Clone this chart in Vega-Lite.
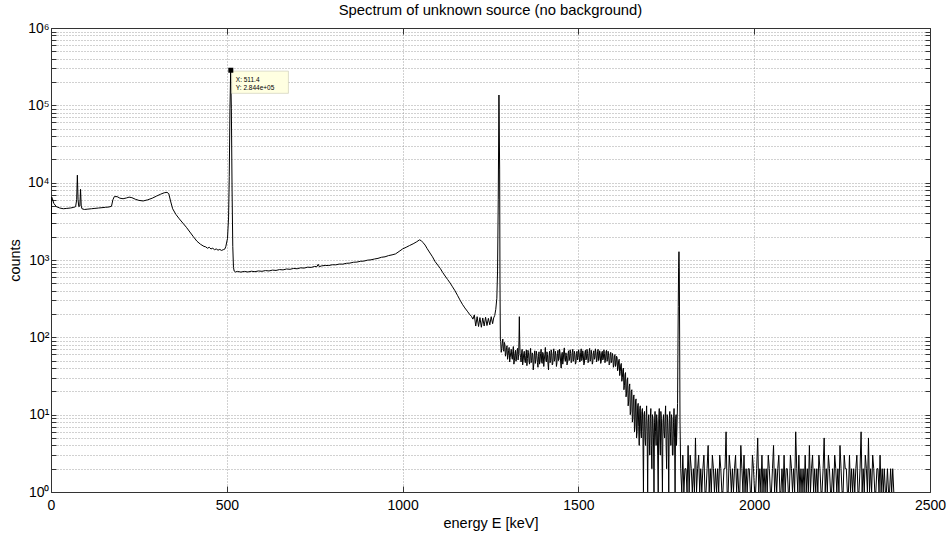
{
"$schema": "https://vega.github.io/schema/vega-lite/v6.json",
"width": 879, "height": 464,
"autosize": "none",
"padding": {"left": 51, "top": 28, "right": 19, "bottom": 44},
"background": "white",
"title": {"text": "Spectrum of unknown source (no background)", "fontSize": 14.8, "fontWeight": "normal", "font": "Liberation Sans", "offset": 3, "color": "black", "anchor": "middle"},
"config": {"view": {"stroke": null}, "font": "Liberation Sans"},
"datasets": {
"spec": [
{"E":0,"c":1800},{"E":2,"c":6500},{"E":4,"c":6200},{"E":8,"c":5400},{"E":15,"c":4900},{"E":25,"c":4700},{"E":35,"c":4600},{"E":45,"c":4650},{"E":55,"c":4700},{"E":65,"c":4800},{"E":70,"c":4900},{"E":73,"c":6000},{"E":75,"c":12500},{"E":77,"c":6000},{"E":79,"c":4900},{"E":82,"c":5000},{"E":84,"c":8200},{"E":86,"c":5000},{"E":88,"c":4600},{"E":95,"c":4500},{"E":105,"c":4550},{"E":115,"c":4600},{"E":125,"c":4650},{"E":135,"c":4700},{"E":145,"c":4750},{"E":155,"c":4800},{"E":165,"c":4850},{"E":172,"c":4950},{"E":176,"c":6000},{"E":180,"c":6600},{"E":188,"c":6600},{"E":196,"c":6300},{"E":205,"c":6200},{"E":215,"c":6350},{"E":222,"c":6500},{"E":230,"c":6400},{"E":240,"c":6100},{"E":250,"c":5900},{"E":262,"c":5800},{"E":275,"c":6000},{"E":288,"c":6300},{"E":300,"c":6700},{"E":312,"c":7100},{"E":322,"c":7400},{"E":330,"c":7500},{"E":335,"c":7200},{"E":340,"c":5800},{"E":346,"c":4600},{"E":355,"c":3900},{"E":365,"c":3400},{"E":375,"c":3000},{"E":385,"c":2650},{"E":395,"c":2300},{"E":405,"c":2000},{"E":415,"c":1750},{"E":425,"c":1600},{"E":435,"c":1500},{"E":440,"c":1480},{"E":445,"c":1420},{"E":450,"c":1460},{"E":455,"c":1390},{"E":460,"c":1420},{"E":465,"c":1360},{"E":470,"c":1390},{"E":475,"c":1340},{"E":480,"c":1370},{"E":485,"c":1330},{"E":490,"c":1360},{"E":494,"c":1380},{"E":497,"c":1480},{"E":502,"c":1900},{"E":505,"c":3500},{"E":507,"c":12000},{"E":509,"c":90000},{"E":511,"c":284400},{"E":513,"c":90000},{"E":515,"c":8000},{"E":517,"c":1500},{"E":519,"c":800},
{"E":521,"c":720},{"E":525,"c":700},{"E":530,"c":712},{"E":540,"c":698},{"E":550,"c":712},{"E":560,"c":700},{"E":570,"c":716},{"E":580,"c":706},{"E":590,"c":722},{"E":600,"c":714},{"E":610,"c":730},{"E":620,"c":722},{"E":630,"c":740},{"E":640,"c":733},{"E":650,"c":752},{"E":660,"c":745},{"E":670,"c":765},{"E":680,"c":758},{"E":690,"c":778},{"E":700,"c":770},{"E":710,"c":792},{"E":720,"c":786},{"E":730,"c":808},{"E":740,"c":802},{"E":750,"c":826},{"E":756,"c":818},{"E":760,"c":880},{"E":763,"c":820},{"E":770,"c":840},{"E":780,"c":850},{"E":790,"c":848},{"E":800,"c":868},{"E":810,"c":866},{"E":820,"c":886},{"E":830,"c":884},{"E":840,"c":906},{"E":850,"c":912},{"E":860,"c":935},{"E":870,"c":940},{"E":880,"c":962},{"E":890,"c":968},{"E":900,"c":995},{"E":910,"c":1005},{"E":920,"c":1030},{"E":930,"c":1050},{"E":940,"c":1085},{"E":950,"c":1100},{"E":960,"c":1140},{"E":970,"c":1165},{"E":980,"c":1200},{"E":990,"c":1290},{"E":1000,"c":1390},{"E":1010,"c":1460},{"E":1020,"c":1540},{"E":1030,"c":1620},{"E":1040,"c":1720},{"E":1048,"c":1820},{"E":1053,"c":1780},{"E":1058,"c":1680},{"E":1064,"c":1560},{"E":1070,"c":1400},{"E":1078,"c":1230},{"E":1085,"c":1100},{"E":1092,"c":960},{"E":1100,"c":860},{"E":1107,"c":780},{"E":1114,"c":690},{"E":1121,"c":620},{"E":1128,"c":560},{"E":1135,"c":505},{"E":1142,"c":450},{"E":1149,"c":400},{"E":1156,"c":350},{"E":1163,"c":305},{"E":1170,"c":268},{"E":1177,"c":240},{"E":1184,"c":218},{"E":1190,"c":200},{"E":1196,"c":186},{"E":1200,"c":172},{"E":1204,"c":195},{"E":1208,"c":140},{"E":1212,"c":185},{"E":1216,"c":138},{"E":1220,"c":180},{"E":1224,"c":135},{"E":1228,"c":178},{"E":1232,"c":140},{"E":1236,"c":182},{"E":1240,"c":142},{"E":1244,"c":176},{"E":1248,"c":145},{"E":1252,"c":185},{"E":1256,"c":150},{"E":1259,"c":178},{"E":1262,"c":192},{"E":1265,"c":230},{"E":1268,"c":320},{"E":1270,"c":700},{"E":1272,"c":6000},{"E":1274,"c":136000},{"E":1276,"c":15000},{"E":1277,"c":500},{"E":1278,"c":95},
{"E":1279,"c":88},{"E":1280.5,"c":64},{"E":1282,"c":72},{"E":1283.5,"c":84},{"E":1285,"c":95},{"E":1286.5,"c":70},{"E":1288,"c":66},{"E":1289.5,"c":86},{"E":1291,"c":80},{"E":1292.5,"c":57},{"E":1294,"c":61},{"E":1295.5,"c":74},{"E":1297,"c":78},{"E":1298.5,"c":52},{"E":1300,"c":58},{"E":1301.5,"c":67},{"E":1303,"c":74},{"E":1304.5,"c":48},{"E":1306,"c":55},{"E":1307.5,"c":63},{"E":1309,"c":70},{"E":1310.5,"c":56},{"E":1312,"c":52},{"E":1313.5,"c":65},{"E":1315,"c":76},{"E":1316.5,"c":45},{"E":1318,"c":50},{"E":1319.5,"c":62},{"E":1321,"c":68},{"E":1322.5,"c":49},{"E":1324,"c":54},{"E":1325.5,"c":66},{"E":1327,"c":72},{"E":1328.5,"c":51},{"E":1330,"c":60},{"E":1331,"c":90},{"E":1332,"c":185},{"E":1333,"c":95},{"E":1334,"c":62},{"E":1335.5,"c":55},{"E":1337,"c":48},{"E":1338.5,"c":63},{"E":1340,"c":70},{"E":1341.5,"c":44},{"E":1343,"c":51},{"E":1344.5,"c":61},{"E":1346,"c":66},{"E":1347.5,"c":50},{"E":1349,"c":47},{"E":1350.5,"c":58},{"E":1352,"c":69},{"E":1353.5,"c":43},{"E":1355,"c":53},{"E":1356.5,"c":68},{"E":1358,"c":64},{"E":1359.5,"c":49},{"E":1361,"c":45},{"E":1362.5,"c":60},{"E":1364,"c":72},{"E":1365.5,"c":47},{"E":1367,"c":50},{"E":1368.5,"c":63},{"E":1370,"c":61},{"E":1371.5,"c":38},{"E":1373,"c":44},{"E":1374.5,"c":59},{"E":1376,"c":67},{"E":1377.5,"c":46},{"E":1379,"c":52},{"E":1380.5,"c":66},{"E":1382,"c":58},{"E":1383.5,"c":47},{"E":1385,"c":41},{"E":1386.5,"c":57},{"E":1388,"c":65},{"E":1389.5,"c":45},{"E":1391,"c":49},{"E":1392.5,"c":62},{"E":1394,"c":70},{"E":1395.5,"c":48},{"E":1397,"c":46},{"E":1398.5,"c":64},{"E":1400,"c":62},{"E":1401.5,"c":42},{"E":1403,"c":51},{"E":1404.5,"c":60},{"E":1406,"c":74},{"E":1407.5,"c":50},{"E":1409,"c":48},{"E":1410.5,"c":65},{"E":1412,"c":60},{"E":1413.5,"c":45},{"E":1415,"c":38},{"E":1416.5,"c":58},{"E":1418,"c":66},{"E":1419.5,"c":47},{"E":1421,"c":50},{"E":1422.5,"c":69},{"E":1424,"c":63},{"E":1425.5,"c":44},{"E":1427,"c":45},{"E":1428.5,"c":61},{"E":1430,"c":71},{"E":1431.5,"c":49},{"E":1433,"c":52},{"E":1434.5,"c":66},{"E":1436,"c":59},{"E":1437.5,"c":42},{"E":1439,"c":47},{"E":1440.5,"c":62},{"E":1442,"c":68},{"E":1443.5,"c":50},{"E":1445,"c":53},{"E":1446.5,"c":70},{"E":1448,"c":61},{"E":1449.5,"c":48},{"E":1451,"c":40},{"E":1452.5,"c":59},{"E":1454,"c":64},{"E":1455.5,"c":45},{"E":1457,"c":51},{"E":1458.5,"c":67},{"E":1460,"c":73},{"E":1461.5,"c":52},{"E":1463,"c":49},{"E":1464.5,"c":63},{"E":1466,"c":58},{"E":1467.5,"c":44},{"E":1469,"c":46},{"E":1470.5,"c":61},{"E":1472,"c":67},{"E":1473.5,"c":50},{"E":1475,"c":54},{"E":1476.5,"c":69},{"E":1478,"c":62},{"E":1479.5,"c":47},{"E":1481,"c":48},{"E":1482.5,"c":64},{"E":1484,"c":70},{"E":1485.5,"c":49},{"E":1487,"c":52},{"E":1488.5,"c":66},{"E":1490,"c":60},{"E":1491.5,"c":45},{"E":1493,"c":47},{"E":1494.5,"c":62},{"E":1496,"c":66},{"E":1497.5,"c":51},{"E":1499,"c":55},{"E":1500.5,"c":69},{"E":1502,"c":63},{"E":1503.5,"c":48},{"E":1505,"c":49},{"E":1506.5,"c":64},{"E":1508,"c":71},{"E":1509.5,"c":50},{"E":1511,"c":53},{"E":1512.5,"c":67},{"E":1514,"c":59},{"E":1515.5,"c":44},{"E":1517,"c":46},{"E":1518.5,"c":63},{"E":1520,"c":68},{"E":1521.5,"c":51},{"E":1523,"c":54},{"E":1524.5,"c":70},{"E":1526,"c":62},{"E":1527.5,"c":47},{"E":1529,"c":50},{"E":1530.5,"c":65},{"E":1532,"c":72},{"E":1533.5,"c":49},{"E":1535,"c":52},{"E":1536.5,"c":68},{"E":1538,"c":60},{"E":1539.5,"c":45},{"E":1541,"c":48},{"E":1542.5,"c":63},{"E":1544,"c":67},{"E":1545.5,"c":52},{"E":1547,"c":55},{"E":1548.5,"c":71},{"E":1550,"c":63},{"E":1551.5,"c":48},{"E":1553,"c":51},{"E":1554.5,"c":66},{"E":1556,"c":70},{"E":1557.5,"c":50},{"E":1559,"c":53},{"E":1560.5,"c":67},{"E":1562,"c":61},{"E":1563.5,"c":46},{"E":1565,"c":49},{"E":1566.5,"c":64},{"E":1568,"c":66},{"E":1569.5,"c":51},{"E":1571,"c":54},{"E":1572.5,"c":69},{"E":1574,"c":62},{"E":1575.5,"c":47},{"E":1577,"c":50},{"E":1578.5,"c":65},{"E":1580,"c":68},{"E":1581.5,"c":49},{"E":1583,"c":52},{"E":1584.5,"c":66},{"E":1586,"c":59},{"E":1587.5,"c":44},{"E":1589,"c":46},{"E":1590.5,"c":61},{"E":1592,"c":64},{"E":1593.5,"c":47},{"E":1595,"c":50},{"E":1596.5,"c":62},{"E":1598,"c":57},{"E":1599.5,"c":41},{"E":1601,"c":44},{"E":1602.5,"c":58},{"E":1604,"c":60},{"E":1605.5,"c":42},{"E":1607,"c":45},{"E":1608.5,"c":57},{"E":1610,"c":55},{"E":1611.5,"c":37},{"E":1613,"c":40},{"E":1614.5,"c":50},{"E":1616,"c":52},{"E":1617.5,"c":32},{"E":1619,"c":36},{"E":1620.5,"c":44},{"E":1622,"c":46},{"E":1623.5,"c":27},{"E":1625,"c":30},{"E":1626.5,"c":38},{"E":1628,"c":40},{"E":1629.5,"c":21},{"E":1631,"c":24},{"E":1632.5,"c":33},{"E":1634,"c":35},{"E":1635.5,"c":17},{"E":1637,"c":19},{"E":1638.5,"c":28},{"E":1640,"c":30},{"E":1641.5,"c":13},{"E":1643,"c":15},{"E":1644.5,"c":23},{"E":1646,"c":25},{"E":1647.5,"c":10},{"E":1649,"c":11},{"E":1650.5,"c":20},{"E":1652,"c":21},{"E":1653.5,"c":8},{"E":1655,"c":9},{"E":1656.5,"c":17},{"E":1658,"c":18},{"E":1659.5,"c":6},{"E":1661,"c":7},{"E":1662.5,"c":15},{"E":1664,"c":16},{"E":1665.5,"c":5},{"E":1667,"c":6},{"E":1668.5,"c":13},{"E":1670,"c":14},{"E":1671.5,"c":7},{"E":1673,"c":4},{"E":1674.5,"c":12},{"E":1676,"c":13},{"E":1677.5,"c":6},{"E":1679,"c":5},{"E":1680.5,"c":11},{"E":1682,"c":12},{"E":1683.5,"c":6},{"E":1685,"c":1},{"E":1686.5,"c":10},{"E":1688,"c":11},{"E":1689.5,"c":5},{"E":1691,"c":4},{"E":1692.5,"c":9},{"E":1694,"c":13},{"E":1695.5,"c":6},{"E":1697,"c":0},{"E":1698.5,"c":8},{"E":1700,"c":10},{"E":1701.5,"c":5},{"E":1703,"c":3},{"E":1704.5,"c":9},{"E":1706,"c":12},{"E":1707.5,"c":4},{"E":1709,"c":2},{"E":1710.5,"c":10},{"E":1712,"c":9},{"E":1713.5,"c":5},{"E":1715,"c":0},{"E":1716.5,"c":8},{"E":1718,"c":11},{"E":1719.5,"c":6},{"E":1721,"c":4},{"E":1722.5,"c":10},{"E":1724,"c":8},{"E":1725.5,"c":3},{"E":1727,"c":1},{"E":1728.5,"c":9},{"E":1730,"c":12},{"E":1731.5,"c":5},{"E":1733,"c":3},{"E":1734.5,"c":11},{"E":1736,"c":9},{"E":1737.5,"c":4},{"E":1739,"c":0},{"E":1740.5,"c":8},{"E":1742,"c":10},{"E":1743.5,"c":6},{"E":1745,"c":5},{"E":1746.5,"c":9},{"E":1748,"c":13},{"E":1749.5,"c":4},{"E":1751,"c":2},{"E":1752.5,"c":10},{"E":1754,"c":8},{"E":1755.5,"c":5},{"E":1757,"c":0},{"E":1758.5,"c":9},{"E":1760,"c":11},{"E":1761.5,"c":6},{"E":1763,"c":4},{"E":1764.5,"c":10},{"E":1766,"c":9},{"E":1767.5,"c":3},{"E":1769,"c":3},{"E":1770.5,"c":8},{"E":1772,"c":12},{"E":1773.5,"c":5},{"E":1775,"c":1},{"E":1776.5,"c":9},{"E":1778,"c":10},{"E":1779,"c":4},{"E":1780,"c":6},{"E":1782,"c":14},{"E":1783,"c":60},{"E":1784,"c":250},{"E":1785,"c":800},{"E":1786,"c":1280},{"E":1787,"c":700},{"E":1788,"c":90},{"E":1789,"c":8},
{"E":1791,"c":2},{"E":1794,"c":0},{"E":1797,"c":3},{"E":1800,"c":1},{"E":1803,"c":2},{"E":1806,"c":2},{"E":1809,"c":0},{"E":1812,"c":4},{"E":1815,"c":1},{"E":1818,"c":3},{"E":1821,"c":2},{"E":1824,"c":0},{"E":1827,"c":2},{"E":1830,"c":1},{"E":1833,"c":5},{"E":1836,"c":0},{"E":1839,"c":2},{"E":1842,"c":3},{"E":1845,"c":1},{"E":1848,"c":2},{"E":1851,"c":0},{"E":1854,"c":2},{"E":1857,"c":3},{"E":1860,"c":0},{"E":1863,"c":1},{"E":1866,"c":2},{"E":1869,"c":4},{"E":1872,"c":0},{"E":1875,"c":2},{"E":1878,"c":1},{"E":1881,"c":3},{"E":1884,"c":2},{"E":1887,"c":0},{"E":1890,"c":2},{"E":1893,"c":1},{"E":1896,"c":2},{"E":1899,"c":0},{"E":1902,"c":3},{"E":1905,"c":2},{"E":1908,"c":1},
{"E":1911,"c":0},{"E":1914,"c":2},{"E":1917,"c":2},{"E":1920,"c":6},{"E":1923,"c":0},{"E":1926,"c":1},{"E":1929,"c":3},{"E":1932,"c":2},{"E":1935,"c":0},{"E":1938,"c":2},{"E":1941,"c":1},{"E":1944,"c":2},{"E":1947,"c":3},{"E":1950,"c":0},{"E":1953,"c":2},{"E":1956,"c":0},{"E":1959,"c":1},{"E":1962,"c":4},{"E":1965,"c":2},{"E":1968,"c":0},{"E":1971,"c":3},{"E":1974,"c":1},{"E":1977,"c":2},{"E":1980,"c":0},{"E":1983,"c":2},{"E":1986,"c":2},{"E":1989,"c":1},{"E":1992,"c":0},{"E":1995,"c":3},{"E":1998,"c":2},{"E":2001,"c":0},{"E":2004,"c":1},{"E":2007,"c":2},{"E":2010,"c":5},{"E":2013,"c":0},{"E":2016,"c":2},{"E":2019,"c":1},{"E":2022,"c":3},{"E":2025,"c":0},{"E":2028,"c":2},
{"E":2031,"c":1},{"E":2034,"c":2},{"E":2037,"c":0},{"E":2040,"c":3},{"E":2043,"c":2},{"E":2046,"c":1},{"E":2049,"c":0},{"E":2052,"c":2},{"E":2055,"c":4},{"E":2058,"c":1},{"E":2061,"c":2},{"E":2064,"c":0},{"E":2067,"c":2},{"E":2070,"c":3},{"E":2073,"c":1},{"E":2076,"c":0},{"E":2079,"c":2},{"E":2082,"c":1},{"E":2085,"c":3},{"E":2088,"c":0},{"E":2091,"c":2},{"E":2094,"c":2},{"E":2097,"c":0},{"E":2100,"c":1},{"E":2103,"c":3},{"E":2106,"c":2},{"E":2109,"c":0},{"E":2112,"c":2},{"E":2115,"c":1},{"E":2118,"c":6},{"E":2121,"c":2},{"E":2124,"c":0},{"E":2127,"c":3},{"E":2130,"c":1},{"E":2133,"c":2},{"E":2136,"c":0},{"E":2139,"c":2},{"E":2142,"c":1},{"E":2145,"c":3},{"E":2148,"c":0},
{"E":2151,"c":2},{"E":2154,"c":0},{"E":2157,"c":4},{"E":2160,"c":1},{"E":2163,"c":2},{"E":2166,"c":3},{"E":2169,"c":0},{"E":2172,"c":2},{"E":2175,"c":1},{"E":2178,"c":2},{"E":2181,"c":0},{"E":2184,"c":3},{"E":2187,"c":2},{"E":2190,"c":1},{"E":2193,"c":0},{"E":2196,"c":2},{"E":2199,"c":5},{"E":2202,"c":0},{"E":2205,"c":2},{"E":2208,"c":1},{"E":2211,"c":3},{"E":2214,"c":2},{"E":2217,"c":0},{"E":2220,"c":1},{"E":2223,"c":2},{"E":2226,"c":0},{"E":2229,"c":3},{"E":2232,"c":2},{"E":2235,"c":1},{"E":2238,"c":2},{"E":2241,"c":0},{"E":2244,"c":4},{"E":2247,"c":2},{"E":2250,"c":0},{"E":2253,"c":1},{"E":2256,"c":3},{"E":2259,"c":2},{"E":2262,"c":2},{"E":2265,"c":0},{"E":2268,"c":1},
{"E":2271,"c":3},{"E":2274,"c":0},{"E":2277,"c":2},{"E":2280,"c":1},{"E":2283,"c":2},{"E":2286,"c":0},{"E":2289,"c":2},{"E":2292,"c":3},{"E":2295,"c":1},{"E":2298,"c":0},{"E":2301,"c":2},{"E":2304,"c":6},{"E":2307,"c":0},{"E":2310,"c":2},{"E":2313,"c":1},{"E":2316,"c":3},{"E":2319,"c":2},{"E":2322,"c":0},{"E":2325,"c":5},{"E":2328,"c":1},{"E":2331,"c":2},{"E":2334,"c":0},{"E":2337,"c":3},{"E":2340,"c":2},{"E":2343,"c":1},{"E":2346,"c":0},{"E":2349,"c":2},{"E":2352,"c":2},{"E":2355,"c":0},{"E":2358,"c":3},{"E":2361,"c":1},{"E":2364,"c":2},{"E":2367,"c":0},{"E":2370,"c":2},{"E":2373,"c":1},{"E":2376,"c":0},{"E":2379,"c":2},{"E":2382,"c":0},{"E":2385,"c":0},{"E":2388,"c":2},{"E":2391,"c":0},{"E":2394,"c":2},{"E":2397,"c":0}
],
"tip": [{"E":511.4,"c":284400,"lx":"X: 511.4","ly":"Y: 2.844e+05"}]
},
"layer": [
{"data": {"name": "spec"},
 "mark": {"type": "line", "color": "black", "strokeWidth": 1, "clip": true, "invalid": "show"},
 "encoding": {
  "x": {"field": "E", "type": "quantitative", "scale": {"domain": [0, 2500], "nice": false, "zero": false},
        "axis": {"orient": "bottom", "values": [0,500,1000,1500,2000,2500], "format": "d", "grid": true, "gridDash": [1,2], "gridColor": "#8c8c8c", "gridWidth": 0.8,
                 "tickSize": -6, "tickColor": "#333333", "domainColor": "#333333", "labelFontSize": 14, "labelColor": "black", "labelPadding": 12, "labelFlush": false, "labelOverlap": false,
                 "title": "energy E [keV]", "titleFontSize": 14.5, "titleFontWeight": "normal", "titleColor": "black", "titlePadding": 4}},
  "y": {"field": "c", "type": "quantitative", "scale": {"type": "log", "domain": [1, 1000000], "nice": false, "clamp": true},
        "axis": {"orient": "left", "values": [1,2,3,4,5,6,7,8,9,10,20,30,40,50,60,70,80,90,100,200,300,400,500,600,700,800,900,1000,2000,3000,4000,5000,6000,7000,8000,9000,10000,20000,30000,40000,50000,60000,70000,80000,90000,100000,200000,300000,400000,500000,600000,700000,800000,900000,1000000],
                 "labelExpr": "datum.value == 1 ? '10⁰' : datum.value == 10 ? '10¹' : datum.value == 100 ? '10²' : datum.value == 1000 ? '10³' : datum.value == 10000 ? '10⁴' : datum.value == 100000 ? '10⁵' : datum.value == 1000000 ? '10⁶' : ''",
                 "grid": true, "gridDash": [1,2], "gridColor": "#8c8c8c", "gridWidth": 0.8,
                 "tickSize": -5, "tickColor": "#333333", "domainColor": "#333333", "labelFontSize": 14, "labelColor": "black", "labelPadding": 7, "labelFlush": false, "labelOverlap": false,
                 "title": "counts", "titleFontSize": 14.5, "titleFontWeight": "normal", "titleColor": "black", "titlePadding": 5}}
 }},
{"data": {"name": "tip"},
 "mark": {"type": "point", "shape": "M0.03,0.03H1.92V0.77H0.03Z", "size": 3600, "filled": true, "fill": "#ffffe1", "stroke": "#c8c8b0", "strokeWidth": 0.6, "opacity": 1},
 "encoding": {
  "x": {"field": "E", "type": "quantitative",
        "axis": {"orient": "top", "values": [0,500,1000,1500,2000,2500], "labels": false, "grid": false, "tickSize": -6, "tickColor": "#333333", "domainColor": "#333333", "title": null}},
  "y": {"field": "c", "type": "quantitative",
        "axis": {"orient": "right", "values": [1,2,3,4,5,6,7,8,9,10,20,30,40,50,60,70,80,90,100,200,300,400,500,600,700,800,900,1000,2000,3000,4000,5000,6000,7000,8000,9000,10000,20000,30000,40000,50000,60000,70000,80000,90000,100000,200000,300000,400000,500000,600000,700000,800000,900000,1000000],
                 "labels": false, "grid": false, "tickSize": -5, "tickColor": "#333333", "domainColor": "#333333", "title": null}}
 }},
{"data": {"name": "tip"},
 "mark": {"type": "point", "shape": "square", "size": 25, "filled": true, "color": "black", "opacity": 1},
 "encoding": {"x": {"field": "E", "type": "quantitative", "axis": null}, "y": {"field": "c", "type": "quantitative", "axis": null}}},
{"data": {"name": "tip"},
 "mark": {"type": "text", "align": "left", "baseline": "middle", "dx": 5, "dy": 10, "fontSize": 6.5, "color": "black"},
 "encoding": {"x": {"field": "E", "type": "quantitative", "axis": null}, "y": {"field": "c", "type": "quantitative", "axis": null}, "text": {"field": "lx"}}},
{"data": {"name": "tip"},
 "mark": {"type": "text", "align": "left", "baseline": "middle", "dx": 5, "dy": 17.5, "fontSize": 6.5, "color": "black"},
 "encoding": {"x": {"field": "E", "type": "quantitative", "axis": null}, "y": {"field": "c", "type": "quantitative", "axis": null}, "text": {"field": "ly"}}}
],
"resolve": {"axis": {"x": "independent", "y": "independent"}}
}
